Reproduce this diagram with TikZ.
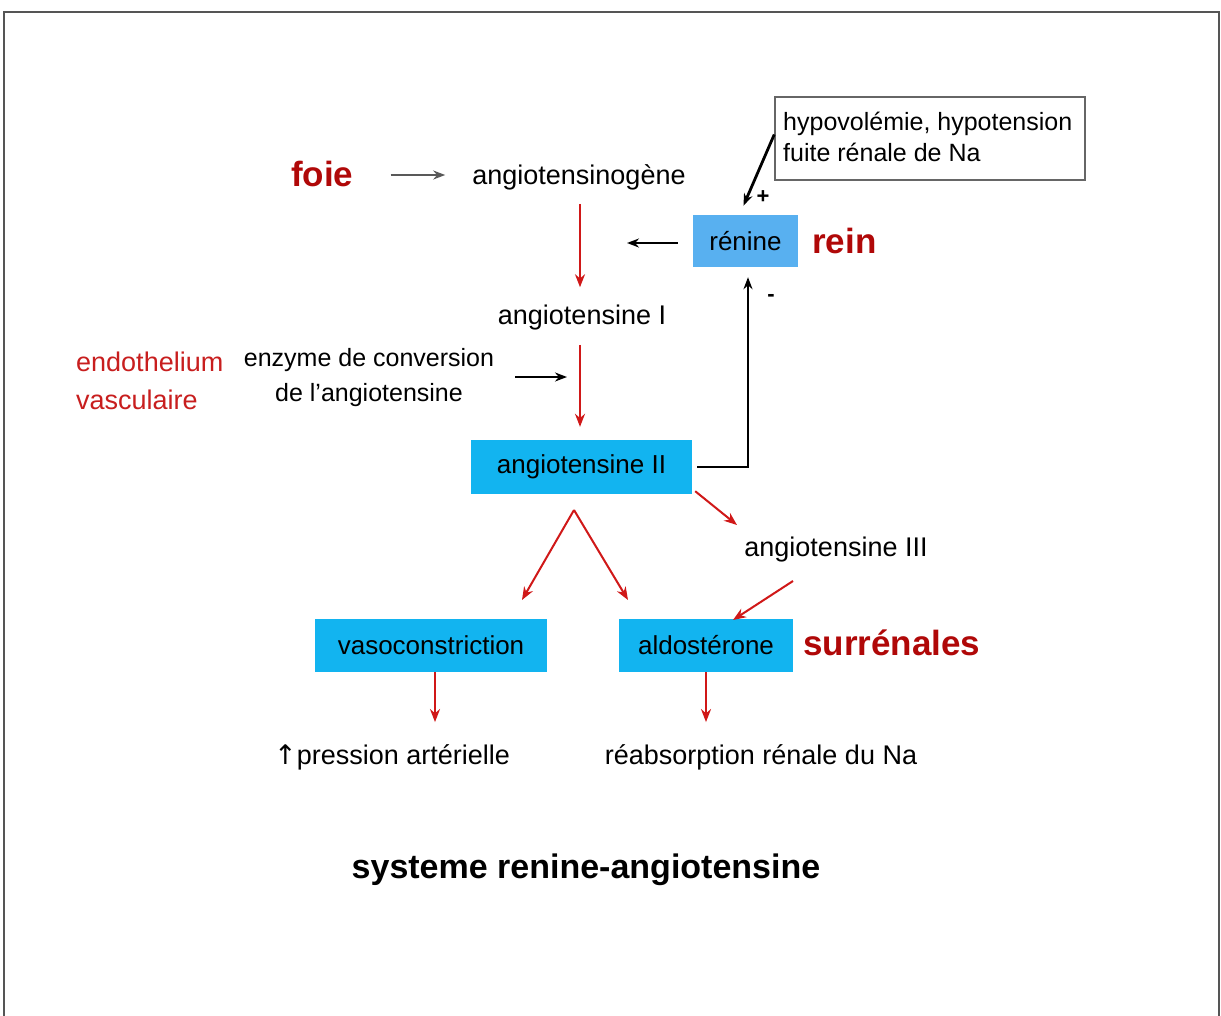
\documentclass[tikz,border=0pt]{standalone}
\usepackage{fontspec}
\setmainfont{Liberation Sans}
\newfontfamily\symfont{DejaVu Sans}
\usetikzlibrary{arrows.meta,calc}
\definecolor{boxblue}{RGB}{18,180,240}
\definecolor{renblue}{RGB}{88,176,240}
\definecolor{darkred}{RGB}{176,8,8}
\definecolor{arrred}{RGB}{208,24,24}
\definecolor{endored}{RGB}{200,30,30}
\definecolor{framegray}{RGB}{85,85,85}
\begin{document}
\begin{tikzpicture}[x=1pt,y=-1pt,
  txt/.style={inner sep=0pt,font=\fontsize{27}{35}\selectfont},
  smalltxt/.style={inner sep=0pt,font=\fontsize{25}{31}\selectfont},
  bred/.style={inner sep=0pt,text=darkred,font=\fontsize{35}{40}\selectfont\bfseries},
  bluebox/.style={fill=boxblue,inner sep=0pt,font=\fontsize{26}{30}\selectfont},
  ra/.style={draw=arrred,line width=2pt,-{Stealth[length=13pt,width=10pt]}},
  ba/.style={draw=black,line width=2pt,-{Stealth[length=12pt,width=9pt]}},
  ga/.style={draw=black!65,line width=2pt,-{Stealth[length=12pt,width=9pt]}},
  sign/.style={inner sep=0pt,font=\fontsize{22}{26}\selectfont\bfseries}]
\useasboundingbox (0,0) rectangle (1221,1015);
\fill[white] (0,0) rectangle (1221,1015);
\draw[framegray,line width=2.5pt] (4,1016) -- (4,12) -- (1219,12) -- (1219,1016);

% nodes
\node[bred,anchor=west] (foie) at (291,174) {foie};
\node[txt] (agen) at (579,177) {angiotensinogène};
\node[bluebox,fill=renblue,minimum width=105pt,minimum height=52pt] (ren) at (745.5,241) {rénine};
\node[bred,anchor=west] (rein) at (812,241) {rein};
\node[draw=black!60,line width=1.5pt,fill=white,minimum width=310pt,minimum height=83pt,inner sep=0pt] (hyp) at (930,138.5) {};
\node[smalltxt,align=left,anchor=north west] (hyptxt) at (783,112) {hypovolémie, hypotension\\fuite rénale de Na};
\node[txt] (ang1) at (582,318) {angiotensine I};
\node[txt,text=endored,align=left,anchor=west,font=\fontsize{27}{38}\selectfont] (endo) at (76,381) {endothelium\\vasculaire};
\node[txt,align=center,font=\fontsize{25}{35}\selectfont] (enz) at (369,378) {enzyme de conversion\\de l'angiotensine};
\node[bluebox,minimum width=221pt,minimum height=54pt] (ang2) at (581.5,467) {angiotensine II};
\node[txt] (ang3) at (836,550) {angiotensine III};
\node[bluebox,minimum width=232pt,minimum height=53pt] (vaso) at (431,645.5) {vasoconstriction};
\node[bluebox,minimum width=174pt,minimum height=53pt] (aldo) at (706,645.5) {aldostérone};
\node[bred,anchor=west] (surr) at (803,643) {surrénales};
\node[txt] (pa) at (392,757) {{\symfont ↑}pression artérielle};
\node[txt] (reab) at (761,757) {réabsorption rénale du Na};
\node[inner sep=0pt,font=\fontsize{34}{40}\selectfont\bfseries] (title) at (586,870) {systeme renine-angiotensine};
\node[sign] (plus) at (763,197) {+};
\node[sign] (minus) at (771,298) {-};

% free ends
\coordinate (renend) at (627,243);
\coordinate (enzend) at (567,377);
\coordinate (apex) at (574,510);
\coordinate (vtip) at (522,600);
\coordinate (atip) at (628,600);
\coordinate (a3tip) at (737,525);
\coordinate (a3start) at (793,581);
\coordinate (aldotip) at (733,620);

% connectors
\draw[ga,shorten <=37pt,shorten >=27pt] (foie.east |- 0,175) -- (agen.west |- 0,175);
\draw[ra,shorten <=14pt,shorten >=18pt] (agen.south -| 580,0) -- (ang1.north -| 580,0);
\draw[ra,shorten <=14pt,shorten >=13pt] (ang1.south -| 580,0) -- (ang2.north -| 580,0);
\draw[ba,shorten <=15pt] (ren.west |- renend) -- (renend);
\draw[ba,shorten <=5pt,shorten >=10pt] (ang2.east) -| ([xshift=2.5pt]ren.south);
\draw[ba,line width=2.8pt,shorten >=10pt] ([yshift=4pt]hyp.west) -- ([xshift=-6pt]ren.north);
\draw[ba,shorten <=21pt] (enz.east |- enzend) -- (enzend);
\draw[ra] (apex) -- (vtip);
\draw[ra] (apex) -- (atip);
\draw[ra] ([xshift=3pt,yshift=3pt]ang2.south east) -- (a3tip);
\draw[ra] (a3start) -- (aldotip);
\draw[ra,shorten >=22pt] ([xshift=4pt]vaso.south) -- ([xshift=4pt]vaso.south |- pa.north);
\draw[ra,shorten >=22pt] (aldo.south) -- (aldo.south |- reab.north);
\end{tikzpicture}
\end{document}
